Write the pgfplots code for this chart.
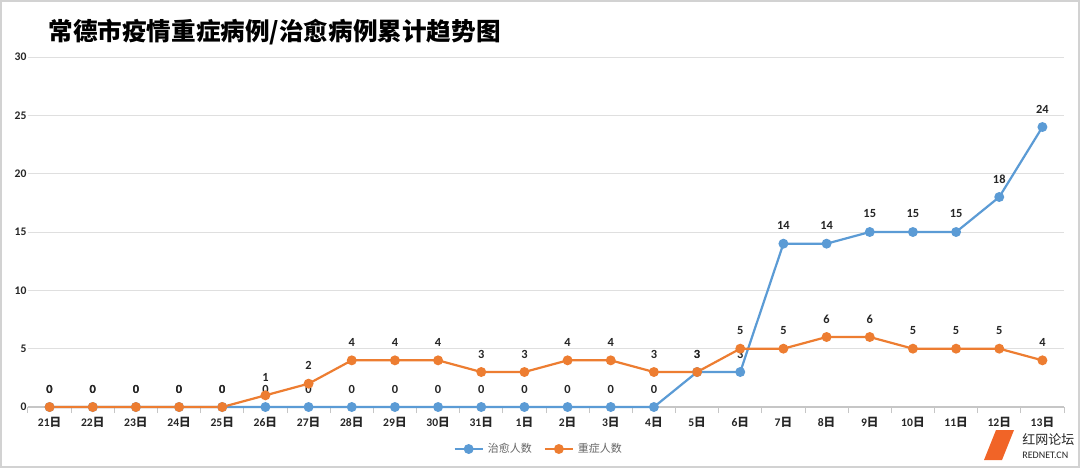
\documentclass[border=0pt]{standalone}
\usepackage{pgfplots}
\pgfplotsset{compat=1.18}
\usepackage{fontspec}
\setmainfont{Carlito}
\newfontfamily\cjk{Noto Sans CJK SC}
\definecolor{cblue}{HTML}{5B9BD5}
\definecolor{corange}{HTML}{ED7D31}
\definecolor{ctext}{HTML}{262626}
\newcommand\ri[1]{#1{\cjk 日}}
\begin{document}
\begin{tikzpicture}
\useasboundingbox (0,0) rectangle (540pt,234pt);
\fill[white] (0,0) rectangle (540pt,234pt);
\draw[gray!35, line width=1pt] (0.5pt,0.5pt) rectangle (539.5pt,233.5pt);
\node[anchor=west, font=\cjk\bfseries\fontsize{12.3pt}{14pt}\selectfont, text=black, inner sep=0pt] at (24pt,218pt) {常德市疫情重症病例/治愈病例累计趋势图};
\begin{axis}[
  at={(14pt,30.5pt)}, anchor=south west,
  scale only axis, width=518pt, height=175pt,
  xmin=-0.5, xmax=23.5, ymin=0, ymax=30,
  clip=false,
  axis x line*=bottom, axis y line*=left,
  x axis line style={gray!45, line width=0.6pt},
  y axis line style={draw=none},
  ytick={0,5,...,30},
  ymajorgrids, grid style={gray!25, line width=0.5pt},
  ytick style={draw=none},
  xtick={0,...,23},
  xticklabels={\ri{21},\ri{22},\ri{23},\ri{24},\ri{25},\ri{26},\ri{27},\ri{28},\ri{29},\ri{30},\ri{31},\ri{1},\ri{2},\ri{3},\ri{4},\ri{5},\ri{6},\ri{7},\ri{8},\ri{9},\ri{10},\ri{11},\ri{12},\ri{13}},
  major x tick style={draw=none},
  minor xtick={-0.5,0.5,...,23.5},
  minor x tick style={gray!45, line width=0.5pt},
  minor tick length=3pt,
  tick align=outside,
  ticklabel style={font=\bfseries\fontsize{5.8pt}{7pt}\selectfont, text=ctext},
  /pgf/number format/assume math mode=true,
  yticklabel style={xshift=7pt},
  xticklabel style={yshift=2.5pt},
  nodes near coords,
  every node near coord/.append style={font=\bfseries\fontsize{6.2pt}{7pt}\selectfont, text=ctext, anchor=center, yshift=9pt},
  legend columns=2,
  legend style={at={(0.494,-0.12)}, anchor=center, draw=none, fill=none,
    font=\cjk\fontsize{5.5pt}{6pt}\selectfont, text=gray!80!black,
    /tikz/every even column/.append style={column sep=4pt}},
  legend image code/.code={\draw[#1, mark repeat=2, mark phase=2] plot coordinates {(0pt,0pt) (7pt,0pt) (14pt,0pt)};},
]
\addplot[cblue, line width=1.1pt, mark=*, mark size=1.9pt] coordinates {
(0,0) (1,0) (2,0) (3,0) (4,0) (5,0) (6,0) (7,0) (8,0) (9,0) (10,0) (11,0) (12,0) (13,0) (14,0)
(15,3) (16,3) (17,14) (18,14) (19,15) (20,15) (21,15) (22,18) (23,24)};
\addlegendentry{治愈人数}
\addplot[corange, line width=1.1pt, mark=*, mark size=1.9pt] coordinates {
(0,0) (1,0) (2,0) (3,0) (4,0) (5,1) (6,2) (7,4) (8,4) (9,4) (10,3) (11,3) (12,4) (13,4) (14,3)
(15,3) (16,5) (17,5) (18,6) (19,6) (20,5) (21,5) (22,5) (23,4)};
\addlegendentry{重症人数}
\end{axis}
% watermark
\fill[corange!80!red] (492pt,4pt) -- (498pt,19pt) -- (507pt,19pt) -- (501pt,4pt) -- cycle;
\node[anchor=west, font=\cjk\fontsize{6.5pt}{7pt}\selectfont, text=ctext, inner sep=0pt] at (511pt,14pt) {红网论坛};
\node[anchor=west, font=\fontsize{5pt}{6pt}\selectfont, text=ctext, inner sep=0pt] at (511pt,6.5pt) {REDNET.CN};
\end{tikzpicture}
\end{document}
